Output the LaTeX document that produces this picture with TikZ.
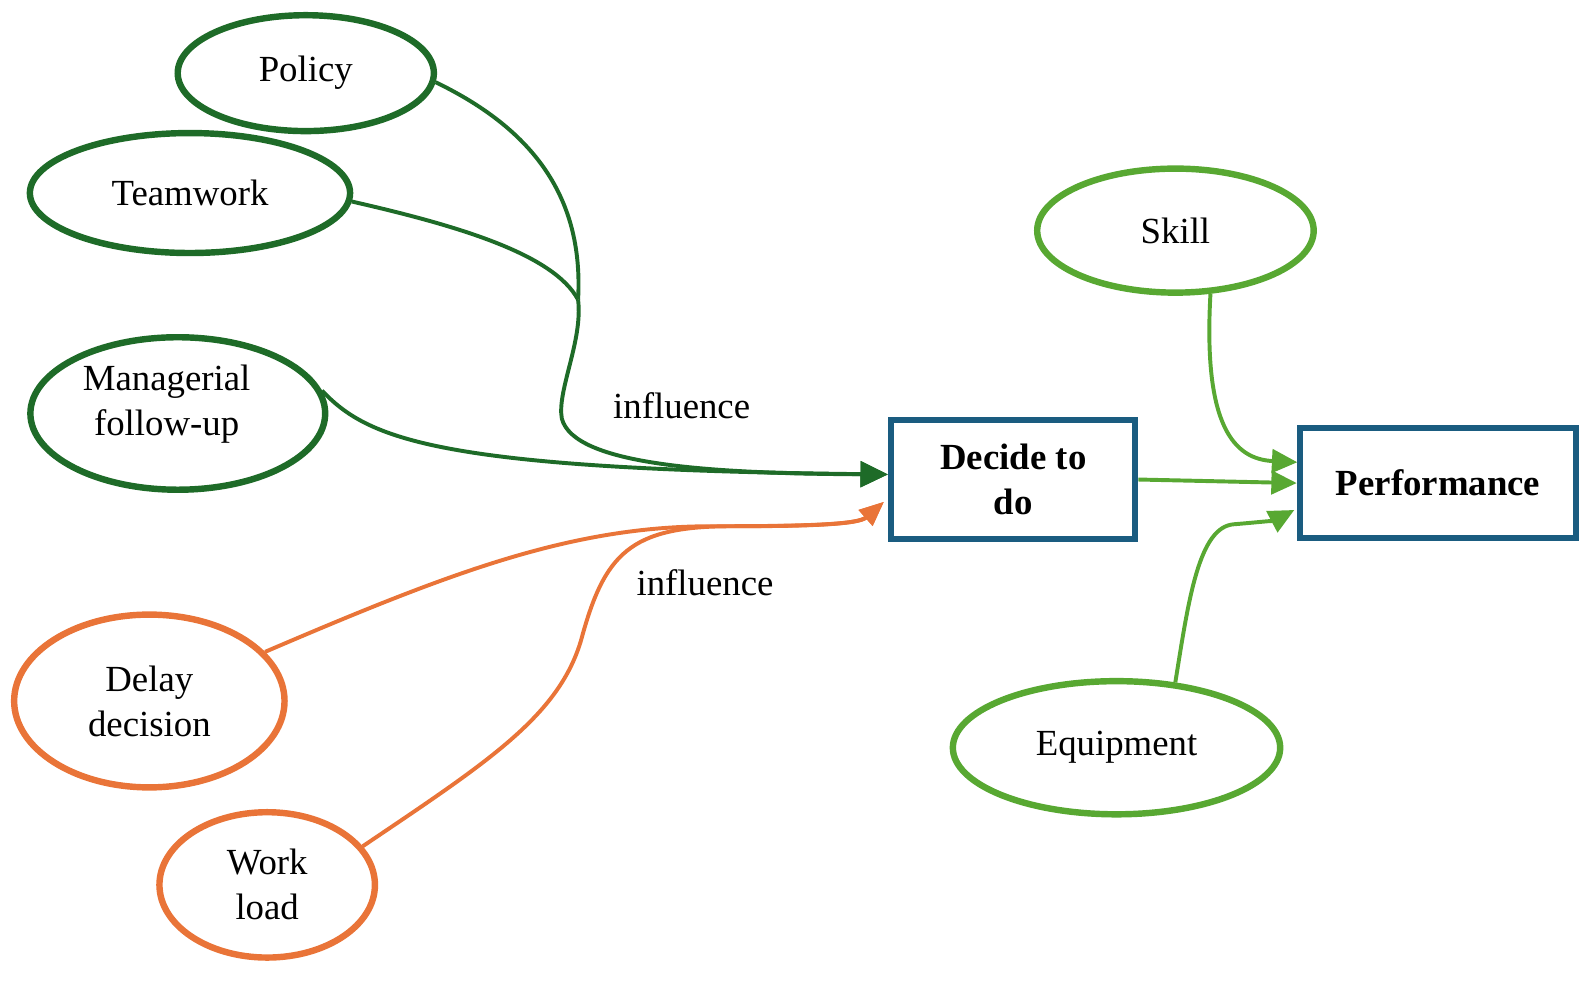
\documentclass[tikz,border=0pt]{standalone}
\usepackage{fontspec}
\setmainfont{Liberation Serif}
\usetikzlibrary{shapes.geometric,arrows.meta,calc}
\definecolor{dgreen}{RGB}{30,107,40}
\definecolor{orng}{RGB}{233,116,56}
\definecolor{lgreen}{RGB}{88,168,50}
\definecolor{boxblue}{RGB}{26,92,128}
\begin{document}
\begin{tikzpicture}[x=0.01cm,y=-0.01cm,
  txt/.style={font=\fontsize{10.3}{12.6}\selectfont},
  oval/.style={ellipse,draw,line width=1.8pt,inner sep=0pt,align=center,text=black,txt},
  goval/.style={oval,draw=dgreen},
  ooval/.style={oval,draw=orng},
  loval/.style={oval,draw=lgreen},
  bbox/.style={rectangle,draw=boxblue,line width=1.7pt,inner sep=0pt,align=center,font=\fontsize{10.3}{12.6}\selectfont\bfseries},
  dg/.style={draw=dgreen,line width=1.1pt},
  og/.style={draw=orng,line width=1.1pt},
  lg/.style={draw=lgreen,line width=1.1pt},
  dtipst/.style={-{Triangle[length=0.27cm,width=0.25cm]}},
  otipst/.style={-{Triangle[length=0.24cm,width=0.2cm]}},
  ltipst/.style={-{Triangle[length=0.25cm,width=0.23cm]}}
]
\useasboundingbox (0,0) rectangle (1568,979);

\node[goval,minimum width=2.52cm,minimum height=1.14cm] (policy) at (301,72) {Policy};
\node[goval,minimum width=3.15cm,minimum height=1.18cm] (teamwork) at (187,190) {Teamwork};
\node[goval,minimum width=2.9cm,minimum height=1.5cm,
      label={[txt,align=center,xshift=-0.11cm,yshift=0.09cm]center:Managerial\\follow-up}] (manag) at (175,407) {};
\node[ooval,minimum width=2.66cm,minimum height=1.70cm] (delay) at (147,690) {Delay\\decision};
\node[ooval,minimum width=2.12cm,minimum height=1.43cm] (work) at (263,871) {Work\\load};
\node[loval,minimum width=2.72cm,minimum height=1.22cm] (skill) at (1157,227) {Skill};
\node[loval,minimum width=3.22cm,minimum height=1.31cm] (equip) at (1099,736) {Equipment};

\node[bbox,minimum width=2.40cm,minimum height=1.17cm] (decide) at (997.5,472) {Decide to\\do};
\node[bbox,minimum width=2.72cm,minimum height=1.08cm] (perf) at (1415.5,475.5) {Performance};

\coordinate (j) at (569,295);
\coordinate (dtin) at (874,467);
\coordinate (otin) at (870,494);
\coordinate (sktip) at (1277,455);
\coordinate (eqtip) at (1274,502);

% dark green
\draw[dg] (policy.-4) .. controls (520,125) and (575,190) .. (j);
\draw[dg] (teamwork.-3) .. controls (450,222) and (545,250) .. (j);
\draw[dg,dtipst] (j) .. controls (574,335) and (548,385) .. (553,412)
   .. controls (565,458) and (700,466) .. (dtin);
\draw[dg,dtipst] (manag.9.5) .. controls (362,432) and (430,462) .. (dtin);

% orange
\draw[og,otipst] (delay.23) .. controls (440,565) and (560,518) .. (700,518)
   .. controls (800,518) and (845,516) .. (otin);
\draw[og,otipst] (work.22) .. controls (480,750) and (550,705) .. (572,630)
   .. controls (595,545) and (620,518) .. (720,518)
   .. controls (800,518) and (845,516) .. (otin);

% light green
\draw[lg,ltipst] (skill.-61) .. controls (1184,420) and (1215,452) .. (sktip);
\draw[lg,ltipst] (decide.east) -- (perf.west);
\draw[lg,ltipst] (equip.48) .. controls (1170,590) and (1180,518) .. (1215,516)
   .. controls (1240,514) and (1255,512) .. (eqtip);

% labels
\node[txt] (inf1) at (671,399) {influence};
\node[txt] (inf2) at (694,574) {influence};
\end{tikzpicture}
\end{document}
